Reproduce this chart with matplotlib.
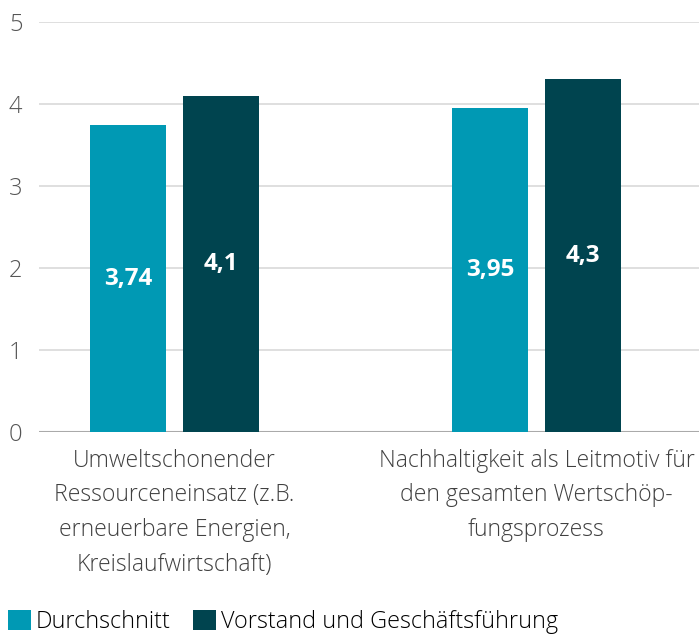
import matplotlib

matplotlib.use("Agg")
import matplotlib.pyplot as plt
import numpy as np

plt.rcParams["font.family"] = ["Open Sans", "DejaVu Sans"]

categories = [
    "Umweltschonender\nRessourceneinsatz (z.B.\nerneuerbare Energien,\nKreislaufwirtschaft)",
    "Nachhaltigkeit als Leitmotiv für\nden gesamten Wertschöp-\nfungsprozess",
]
series_names = ["Durchschnitt", "Vorstand und Geschäftsführung"]
avg_values = [3.74, 3.95]
board_values = [4.1, 4.3]
value_labels_avg = ["3,74", "3,95"]
value_labels_board = ["4,1", "4,3"]

colors = ["#0099b4", "#00444f"]

fig = plt.figure(figsize=(6.99, 6.36), dpi=100)
ax = fig.add_axes([39 / 699, 204 / 636, 660 / 699, 410 / 636])

x = np.arange(len(categories))
w = 0.21
off = 0.1285
b1 = ax.bar(x - off, avg_values, w, color=colors[0], label=series_names[0], zorder=3)
b2 = ax.bar(x + off, board_values, w, color=colors[1], label=series_names[1], zorder=3)

for bars, labels in [(b1, value_labels_avg), (b2, value_labels_board)]:
    for rect, lab in zip(bars, labels):
        ax.text(rect.get_x() + rect.get_width() / 2, rect.get_height() / 2, lab,
                ha="center", va="center", color="white", fontsize=17.5,
                fontweight="bold", zorder=4)

ax.set_xlim(-0.3743, 1.4489)
ax.set_ylim(0, 5)
ax.set_yticks([0, 1, 2, 3, 4, 5])
ax.yaxis.grid(True, color="#d9d9d9", linewidth=1.2, zorder=0)
ax.axhline(0, color="#aaaaaa", linewidth=1.5, zorder=2)
for s in ax.spines.values():
    s.set_visible(False)
ax.tick_params(axis="y", length=0, pad=12, labelsize=17, labelcolor="#555555")
ax.set_xticks(x)
ax.set_xticklabels(categories, fontsize=16.6, color="#404040", fontweight="light",
                   linespacing=1.6)
ax.tick_params(axis="x", length=0, pad=12)
for t in ax.get_yticklabels():
    t.set_fontweight("light")

fig.legend(loc="lower left", bbox_to_anchor=(8 / 699, 2 / 636), ncol=2, frameon=False,
           handlelength=0.98, handleheight=0.98, handletextpad=0.22,
           columnspacing=0.95, borderpad=0, borderaxespad=0,
           prop={"weight": "light", "size": 16.8})

fig.savefig("out.png", dpi=100)
